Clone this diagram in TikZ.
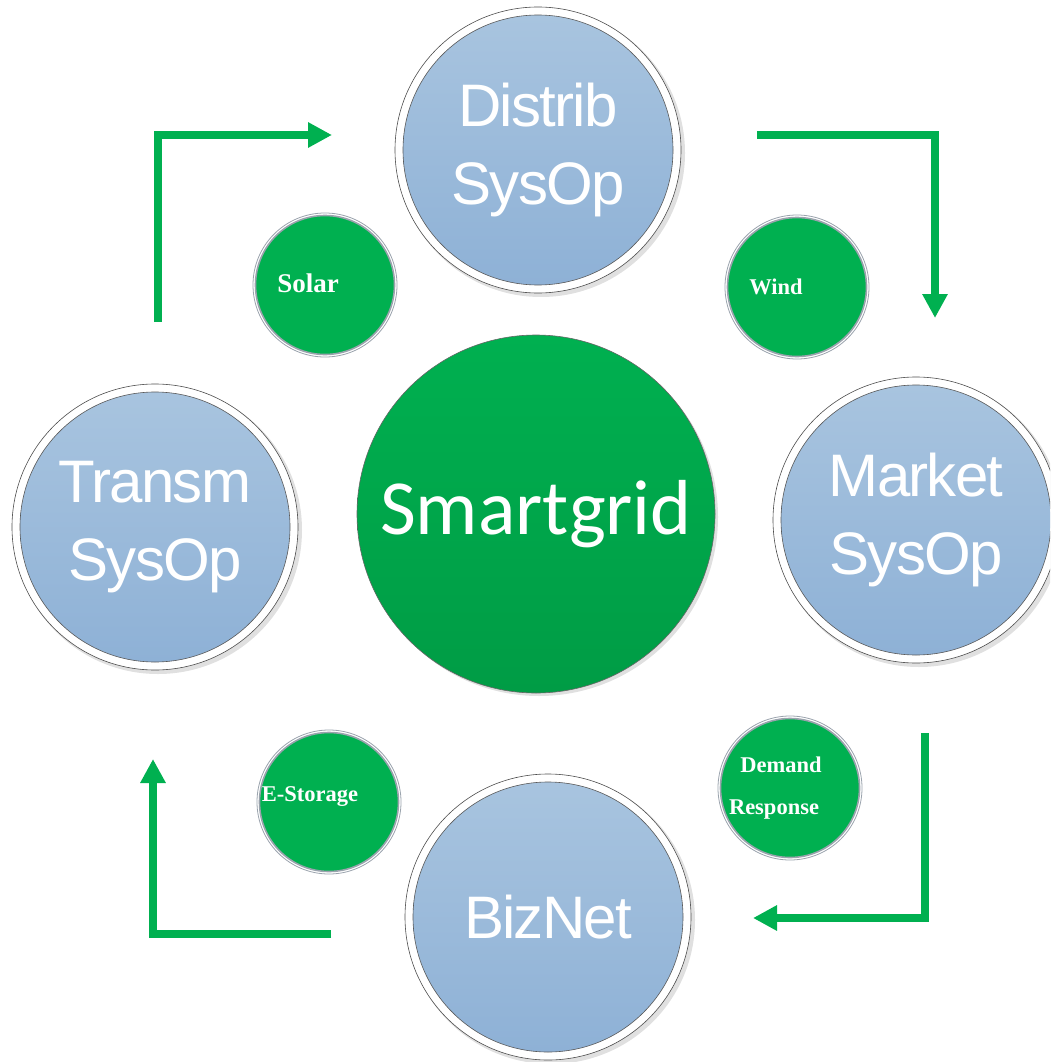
\documentclass[tikz,border=0pt]{standalone}
\usepackage{fontspec}
\setmainfont{Liberation Serif}
\newfontfamily\headsans[LetterSpace=-3]{Liberation Sans}
\newfontfamily\hubsans{Carlito}
\usetikzlibrary{arrows.meta,calc}
\definecolor{leaf}{HTML}{00B050}
\definecolor{leafdark}{HTML}{009C45}
\definecolor{skytop}{HTML}{A8C4DF}
\definecolor{skybot}{HTML}{8EB1D6}
\definecolor{rimgray}{HTML}{9AA3AD}
\tikzset{
  ringshadow/.style={fill=black!12},
  bigring/.style={circle, minimum size=286pt, inner sep=0pt, fill=white,
    draw=black!70, line width=0.6pt},
  bigdisc/.style={circle, minimum size=270pt, inner sep=0pt,
    top color=skytop, bottom color=skybot, draw=black!65, line width=0.6pt,
    text=white, align=center, font=\headsans\fontsize{60}{78}\selectfont},
  hub/.style={circle, minimum size=358pt, inner sep=0pt,
    top color=leaf, bottom color=leafdark, draw=black!60, line width=0.6pt,
    text=white, font=\hubsans\fontsize{78}{90}\selectfont},
  smallring/.style={circle, minimum size=144pt, inner sep=0pt, fill=white,
    draw=rimgray, line width=0.8pt},
  smalldisc/.style={circle, minimum size=139pt, inner sep=0pt, fill=leaf,
    draw=rimgray, line width=1.6pt},
  tag/.style={text=white, inner sep=0pt, font=\bfseries\fontsize{22.5}{26}\selectfont},
  flow/.style={draw=leaf, line width=8pt, line join=miter,
    -{Triangle[width=24pt,length=24pt]}},
}
\begin{document}
\begin{tikzpicture}[x=1pt,y=-1pt]
\useasboundingbox (0,0) rectangle (1050,1062);
\clip (0,0) rectangle (1050,1062);

% four operator rings, each with a soft drop shadow
\fill[ringshadow] (541,153) circle (144);
\fill[ringshadow] (158,530) circle (144);
\fill[ringshadow] (919,523) circle (144);
\fill[ringshadow] (551,920) circle (144);

\node[bigring] (distrib-r) at (538,150) {};
\node[bigdisc] (distrib) at (538,150) {Distrib\\SysOp};
\node[bigring] (transm-r) at (155,527) {};
\node[bigdisc] (transm) at (155,527) {Transm\\SysOp};
\node[bigring] (market-r) at (916,520) {};
\node[bigdisc] (market) at (916,520) {Market\\SysOp};
\node[bigring] (biznet-r) at (548,917) {};
\node[bigdisc] (biznet) at (548,917) {BizNet};

% central hub
\fill[black!12] (539,517) circle (179);
\node[hub] (hub) at (536,514) {Smartgrid};

% resource bubbles
\node[smallring] (solar-r) at (325,285) {};
\node[smalldisc] (solar) at (325,285) {};
\node[tag, font=\bfseries\fontsize{27}{30}\selectfont] (solar-t) at ($(solar)+(-17,-2)$) {Solar};

\node[smallring] (wind-r) at (797,287) {};
\node[smalldisc] (wind) at (797,287) {};
\node[tag] (wind-t) at ($(wind)+(-21,0)$) {Wind};

\node[smallring] (dr-r) at (790,788) {};
\node[smalldisc] (dr) at (790,788) {};
\node[tag] (dr-t1) at ($(dr)+(-9,-23)$) {Demand};
\node[tag] (dr-t2) at ($(dr)+(-16,22)$) {Response};

\node[smallring] (store-r) at (329,802) {};
\node[smalldisc] (store) at (329,802) {};
\node[tag] (store-t) at ($(store)+(-19,-5)$) {E-Storage};

% circulation arrows
\coordinate (tl-a) at (158,322);
\coordinate (tl-b) at (158,135);
\coordinate (tl-c) at (332,135);
\coordinate (tr-a) at (757,135);
\coordinate (tr-b) at (935,135);
\coordinate (tr-c) at (935,318);
\coordinate (br-a) at (925,733);
\coordinate (br-b) at (925,918);
\coordinate (br-c) at (753,918);
\coordinate (bl-a) at (331,934);
\coordinate (bl-b) at (153,934);
\coordinate (bl-c) at (153,759);

\draw[flow] (tl-a) -- (tl-b) -- (tl-c);
\draw[flow] (tr-a) -- (tr-b) -- (tr-c);
\draw[flow] (br-a) -- (br-b) -- (br-c);
\draw[flow] (bl-a) -- (bl-b) -- (bl-c);
\end{tikzpicture}
\end{document}
